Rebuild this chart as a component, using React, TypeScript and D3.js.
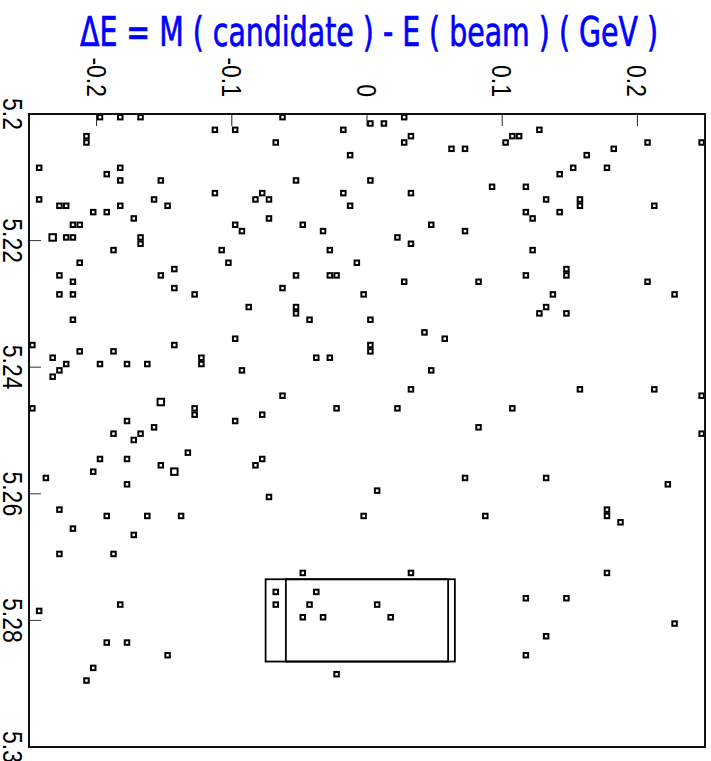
import React from "react";
import * as d3 from "d3";

// ΔE (GeV) bin centres of filled cells
const deltaE = [
  -0.1975, -0.1825, -0.1675, -0.1125, -0.0975, -0.2075, -0.2075, -0.2425, -0.1925, -0.1825,
  -0.1825, -0.1525, -0.1125, -0.2425, -0.1575, -0.2275, -0.2225, -0.1825, -0.1475, -0.2025,
  -0.1925, -0.1725, -0.2175, -0.2125, -0.0975, -0.0925, -0.2325, -0.2225, -0.2175, -0.1675,
  -0.1675, -0.1875, -0.1075, -0.2125, -0.1025, -0.2275, -0.1525, -0.1425, -0.2175, -0.1425,
  -0.2275, -0.2175, -0.1275, -0.2175, -0.0975, -0.2475, -0.1425, -0.2325, -0.2125, -0.1875,
  -0.2225, -0.1975, -0.1775, -0.1625, -0.1225, -0.1225, -0.2275, -0.2325, -0.0925, -0.2475,
  -0.1525, -0.1275, -0.1275, -0.0975, -0.1775, -0.1575, -0.1875, -0.1675, -0.1725, -0.1325,
  -0.1975, -0.1775, -0.1525, -0.1425, -0.2025, -0.2375, -0.1775, -0.2275, -0.1925, -0.1625,
  -0.1375, -0.2175, -0.1725, -0.2275, -0.1875, -0.1825, -0.2425, -0.1925, -0.1775, -0.1475,
  -0.2025, -0.2075,
  -0.0625, -0.0175, 0.0025, 0.0125, 0.0275, 0.0325, 0.0275, -0.0675, -0.0125, 0.0625,
  0.0725, -0.0525, 0.0025, -0.0775, -0.0825, -0.0725, -0.0175, 0.0325, -0.0125, -0.0725,
  -0.0475, -0.0325, 0.0475, 0.0725, 0.0225, 0.0325, -0.0275, -0.0075, -0.0525, -0.0275,
  -0.0225, 0.0275, -0.0625, -0.0025, -0.0875, -0.0525, -0.0525, -0.0425, 0.0025, 0.0425,
  0.0575, 0.0025, 0.0025, -0.0375, -0.0275, 0.0475, 0.0325, -0.0625, -0.0225, 0.0225,
  -0.0775, -0.0775, -0.0825, -0.0725, 0.0725, 0.0075, -0.0025, -0.0475, 0.0325, -0.0675,
  -0.0675, -0.0375, -0.0425, 0.0075, -0.0475, -0.0325, 0.0175, -0.0225,
  0.1275, 0.1075, 0.1125, 0.1025, 0.2075, 0.2475, 0.1825, 0.1625, 0.1525, 0.1775,
  0.1425, 0.0925, 0.1175, 0.1325, 0.1575, 0.1575, 0.2125, 0.1175, 0.1225, 0.1425,
  0.1225, 0.0825, 0.1175, 0.1475, 0.1475, 0.2075, 0.1375, 0.2275, 0.1325, 0.1275,
  0.1475, 0.1575, 0.2125, 0.2475, 0.1075, 0.0825, 0.2475, 0.1325, 0.2225, 0.0875,
  0.1775, 0.1775, 0.1875, 0.1775, 0.1175, 0.1475, 0.2275, 0.1325, 0.1175,
];

// M(candidate) (GeV) bin centres of filled cells
const mbc = [
  5.2005, 5.2005, 5.2005, 5.2025, 5.2025, 5.2035, 5.2045, 5.2085, 5.2095, 5.2085,
  5.2105, 5.2105, 5.2125, 5.2135, 5.2135, 5.2145, 5.2145, 5.2145, 5.2145, 5.2155,
  5.2155, 5.2165, 5.2175, 5.2175, 5.2175, 5.2185, 5.2195, 5.2195, 5.2195, 5.2195,
  5.2205, 5.2215, 5.2215, 5.2235, 5.2235, 5.2255, 5.2255, 5.2245, 5.2265, 5.2275,
  5.2285, 5.2285, 5.2285, 5.2325, 5.2355, 5.2365, 5.2365, 5.2385, 5.2375, 5.2375,
  5.2395, 5.2395, 5.2395, 5.2395, 5.2385, 5.2395, 5.2405, 5.2415, 5.2405, 5.2465,
  5.2455, 5.2465, 5.2475, 5.2485, 5.2485, 5.2495, 5.2505, 5.2505, 5.2515, 5.2535,
  5.2545, 5.2545, 5.2555, 5.2565, 5.2565, 5.2575, 5.2585, 5.2625, 5.2635, 5.2635,
  5.2635, 5.2655, 5.2665, 5.2695, 5.2695, 5.2775, 5.2785, 5.2835, 5.2835, 5.2855,
  5.2875, 5.2895,
  5.2005, 5.2025, 5.2015, 5.2015, 5.2005, 5.2035, 5.2045, 5.2045, 5.2065, 5.2055,
  5.2055, 5.2105, 5.2105, 5.2125, 5.2135, 5.2135, 5.2125, 5.2125, 5.2145, 5.2165,
  5.2175, 5.2185, 5.2175, 5.2185, 5.2195, 5.2205, 5.2215, 5.2235, 5.2255, 5.2255,
  5.2255, 5.2265, 5.2275, 5.2285, 5.2305, 5.2305, 5.2315, 5.2325, 5.2325, 5.2345,
  5.2355, 5.2365, 5.2375, 5.2385, 5.2385, 5.2405, 5.2435, 5.2445, 5.2465, 5.2465,
  5.2475, 5.2545, 5.2555, 5.2605, 5.2575, 5.2595, 5.2635, 5.2725, 5.2725, 5.2755,
  5.2775, 5.2755, 5.2775, 5.2775, 5.2795, 5.2795, 5.2795, 5.2885,
  5.2025, 5.2035, 5.2035, 5.2045, 5.2045, 5.2045, 5.2055, 5.2065, 5.2085, 5.2085,
  5.2095, 5.2115, 5.2115, 5.2135, 5.2135, 5.2145, 5.2145, 5.2155, 5.2165, 5.2155,
  5.2215, 5.2265, 5.2255, 5.2245, 5.2255, 5.2265, 5.2285, 5.2285, 5.2305, 5.2315,
  5.2315, 5.2435, 5.2435, 5.2445, 5.2465, 5.2495, 5.2505, 5.2575, 5.2585, 5.2635,
  5.2625, 5.2635, 5.2645, 5.2725, 5.2765, 5.2765, 5.2805, 5.2825, 5.2855,
];

// cells holding two entries
const twoEntryDeltaE = [-0.2325, -0.1525, -0.1425];
const twoEntryMbc = [5.2195, 5.2455, 5.2565];

// signal boxes
const outerBoxDeltaE = [-0.075, 0.065];
const innerBoxDeltaE = [-0.06, 0.06];
const boxMbc = [5.2735, 5.2865];

const xTicks = [-0.2, -0.1, 0, 0.1, 0.2];
const xTickLabels = ["-0.2", "-0.1", "0", "0.1", "0.2"];
const yTicks = [5.2, 5.22, 5.24, 5.26, 5.28, 5.3];
const yTickLabels = ["5.2", "5.22", "5.24", "5.26", "5.28", "5.3"];

const titleText = "\u0394E = M ( candidate ) - E ( beam ) ( GeV )";

export default function App() {
  const W = 711;
  const H = 761;
  const x = d3.scaleLinear().domain([-0.25, 0.25]).range([29, 705]);
  const y = d3.scaleLinear().domain([5.2, 5.3]).range([114, 747]);

  const isDouble = (dx: number, my: number) =>
    twoEntryDeltaE.some((v, i) => Math.abs(v - dx) < 1e-6 && Math.abs(twoEntryMbc[i] - my) < 1e-6);

  const font = "'Liberation Sans', Arial, sans-serif";

  return (
    <svg
      width={W}
      height={H}
      style={{ position: "absolute", left: 0, top: 0, display: "block", background: "#fff" }}
    >
      <rect x={0} y={0} width={W} height={H} fill="#fff" />
      {/* title */}
      <text
        x={80}
        y={46}
        fill="#0000ff"
        stroke="#0000ff"
        strokeWidth={0.7}
        fontFamily="'DejaVu Sans Condensed', 'DejaVu Sans', sans-serif"
        fontSize={40}
        textLength={578}
        lengthAdjust="spacingAndGlyphs"
      >
        {titleText}
      </text>

      {/* top axis labels */}
      {xTicks.map((t, i) => (
        <text
          key={"xl" + i}
          transform={`translate(${x(t) - 10},97) rotate(90) scale(1,1.2)`}
          textAnchor="end"
          fontFamily={font}
          fontSize={23}
          fill="#000"
        >
          {xTickLabels[i]}
        </text>
      ))}

      {/* left axis labels */}
      {yTicks.map((t, i) => (
        <text
          key={"yl" + i}
          transform={`translate(3,${y(t)}) rotate(90) scale(1,1.2)`}
          textAnchor="middle"
          fontFamily={font}
          fontSize={23}
          fill="#000"
        >
          {yTickLabels[i]}
        </text>
      ))}

      {/* ticks */}
      {xTicks.map((t, i) => (
        <line key={"xt" + i} x1={x(t)} x2={x(t)} y1={114} y2={126} stroke="#222" strokeWidth={1} />
      ))}
      {yTicks.map((t, i) => (
        <line key={"yt" + i} x1={29} x2={41} y1={y(t)} y2={y(t)} stroke="#333" strokeWidth={1} />
      ))}

      {/* signal boxes */}
      <rect
        x={x(outerBoxDeltaE[0])}
        y={y(boxMbc[0])}
        width={x(outerBoxDeltaE[1]) - x(outerBoxDeltaE[0])}
        height={y(boxMbc[1]) - y(boxMbc[0])}
        fill="none"
        stroke="#000"
        strokeWidth={1.8}
      />
      <rect
        x={x(innerBoxDeltaE[0])}
        y={y(boxMbc[0])}
        width={x(innerBoxDeltaE[1]) - x(innerBoxDeltaE[0])}
        height={y(boxMbc[1]) - y(boxMbc[0])}
        fill="none"
        stroke="#000"
        strokeWidth={1.8}
      />

      {/* cells */}
      {deltaE.map((dx, i) => {
        const two = isDouble(dx, mbc[i]);
        const s = two ? 6.5 : 4.5;
        return (
          <rect
            key={"p" + i}
            x={x(dx) - s / 2}
            y={y(mbc[i]) - s / 2}
            width={s}
            height={s}
            fill="#fff"
            stroke="#000"
            strokeWidth={2}
          />
        );
      })}

      {/* frame */}
      <rect x={29} y={114} width={676} height={633} fill="none" stroke="#111" strokeWidth={2} />
    </svg>
  );
}
